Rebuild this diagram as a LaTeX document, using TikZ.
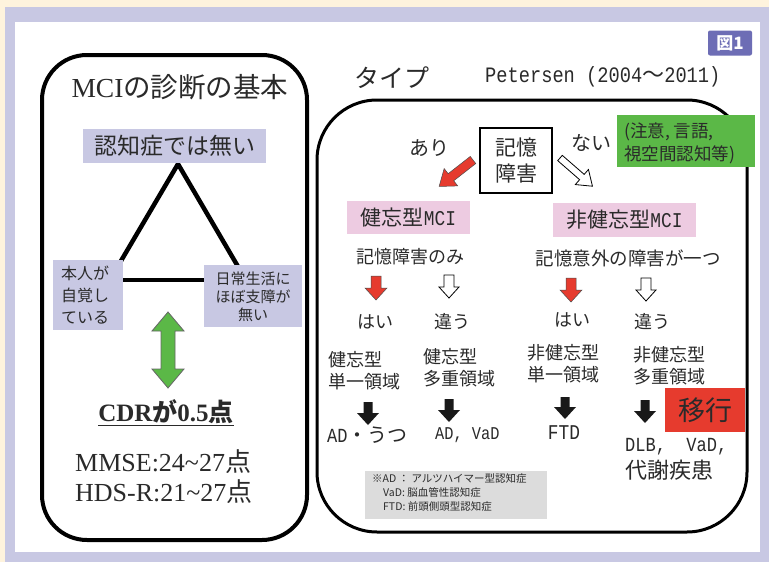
\documentclass[tikz,border=0pt]{standalone}
\usepackage{fontspec}
\setmainfont{Liberation Serif}
\newfontfamily\jp{Noto Sans CJK JP}
\newfontfamily\mono[FakeStretch=0.85]{Liberation Mono}
\newcommand{\fsz}[1]{\fontsize{#1}{#1}\selectfont}
\newcommand{\fszl}[2]{\fontsize{#1}{#2}\selectfont}
\definecolor{cream}{HTML}{FEF3DD}
\definecolor{lav}{HTML}{C8C8E3}
\definecolor{badge}{HTML}{6D6DB5}
\definecolor{mgreen}{HTML}{5BB847}
\definecolor{mpink}{HTML}{EDCBE1}
\definecolor{mred}{HTML}{E63B2E}
\definecolor{mgray}{HTML}{DCDCDC}
\definecolor{txt}{HTML}{2A2A2A}
\newcommand{\blockarr}[8]{%
  \path[#1, shift={(#2,#3)}, rotate=#4] (0,-#6) -- ({#5-#8},-#6) -- ({#5-#8},-#7) -- (#5,0) -- ({#5-#8},#7) -- ({#5-#8},#6) -- (0,#6) -- cycle;}
\begin{document}
\begin{tikzpicture}[x=1pt,y=-1pt,
  every node/.style={inner sep=0pt, text=txt},
  lavbox/.style={fill=lav},
  pinkbox/.style={fill=mpink},
  frame/.style={draw=black, line width=4pt, rounded corners=45pt},
  tframe/.style={draw=black, line width=3pt, rounded corners=60pt},
  triline/.style={line width=4.5pt, black},
  redarr/.style={fill=mred, draw=black!70, line width=0.5pt},
  hollowarr/.style={fill=white, draw=black, line width=0.8pt},
  blackarr/.style={fill=black!90},
  greenarr/.style={fill=mgreen, draw=black!60, line width=0.8pt}]
\fill[cream] (0,0) rectangle (769,562);
\useasboundingbox (0,0) rectangle (769,562);
\fill[lav] (5,7) rectangle (769,562);
\fill[white] (15,22) rectangle (760,552);
% badge
\node[fill=badge, rounded corners=2pt, minimum width=44pt, minimum height=25pt, text=white, font={\jp\bfseries\fsz{17}}] (badge) at (730,43) {図1};

% ---------- left panel ----------
\draw[frame] (42,55) rectangle (307,540);
\node[font=\fsz{27.5}] (title) at (180,87) {MCI{\jp の診断の基本}};
\coordinate (apex) at (178,164);
\coordinate (tl) at (118,266);
\coordinate (tr) at (240,270);
\coordinate (hl) at (118,280);
\coordinate (hr) at (210,280);
\draw[triline] (tl) -- (apex) -- (tr);
\draw[triline] (hl) -- (hr);
\node[lavbox, minimum width=183pt, minimum height=34pt, font={\jp\fsz{23}}] (notdem) at (174.5,146) {認知症では無い};
\node[lavbox, anchor=north west, minimum width=70pt, minimum height=70pt] (selfbox) at (53,260) {};
\node[anchor=west, align=left, font={\jp\fszl{16}{22}}] (self) at (61,295) {本人が\\自覚し\\ている};
\node[lavbox, anchor=north west, minimum width=98pt, minimum height=62pt] (dailybox) at (204,265) {};
\node[align=center, font={\jp\fszl{15}{18}}] (daily) at (253,297) {日常生活に\\ほぼ支障が\\無い};
\path[greenarr] (168,312) -- (184,331) -- (175,331) -- (175,369) -- (184,369) -- (168,388) -- (152,369) -- (161,369) -- (161,331) -- (152,331) -- cycle;
\node[font={\bfseries\fsz{25}}] (cdr) at (166,413) {\underline{CDR{\jp\bfseries が}0.5{\jp\bfseries 点}}};
\node[anchor=west, font=\fsz{26}] (mmse) at (75,462) {MMSE:24\textasciitilde 27{\jp 点}};
\node[anchor=west, font=\fsz{26}] (hds) at (75,492) {HDS-R:21\textasciitilde 27{\jp 点}};

% ---------- right panel ----------
\node[font={\jp\fsz{25}}] (type) at (392,78) {タイプ};
\node[anchor=west, font={\mono\fsz{22}}] (peter) at (485,77) {Petersen (2004{\jp〜}2011)};
\draw[tframe] (317,100) rectangle (747,532);
\node[fill=mgreen, anchor=north west, minimum width=138pt, minimum height=52pt] (grn) at (617,115) {};
\node[anchor=west, align=left, font={\jp\fszl{17.5}{23}}] (grntxt) at (624,143) {(注意, 言語,\\視空間認知等)};
\node[draw=black, line width=1.5pt, fill=white, minimum width=72pt, minimum height=65pt, align=center, font={\jp\fszl{21}{26}}] (mem) at (516,160.5) {記憶\\障害};
\node[font={\jp\fsz{20}}] (ari) at (429,148) {あり};
\node[font={\jp\fsz{20}}] (nai) at (591,143) {ない};
\blockarr{redarr}{473}{160}{218}{43}{4.5}{11}{15}
\blockarr{hollowarr}{560}{158}{-41}{43}{3.5}{10}{14}
\node[pinkbox, minimum width=123pt, minimum height=33pt, font={\jp\fsz{21}}] (amn) at (408.5,217.5) {健忘型{\mono MCI}};
\node[pinkbox, minimum width=143pt, minimum height=34pt, font={\jp\fsz{21}}] (namn) at (624.5,220) {非健忘型{\mono MCI}};
\node[font={\jp\fsz{18}}] (q1) at (410,257) {記憶障害のみ};
\node[font={\jp\fsz{18.5}}] (q2) at (628,258) {記憶意外の障害が一つ};
\blockarr{redarr}{376}{276}{-90}{24}{5}{11}{12}
\blockarr{hollowarr}{449}{275}{-90}{23}{5}{10}{11}
\blockarr{redarr}{571}{278}{-90}{24}{5}{11}{12}
\blockarr{hollowarr}{646}{278}{-90}{23}{5}{10}{11}
\node[font={\jp\fsz{18}}] (y1) at (375,322) {はい};
\node[font={\jp\fsz{18}}] (n1) at (452,322) {違う};
\node[font={\jp\fsz{18}}] (y2) at (572,320) {はい};
\node[font={\jp\fsz{18}}] (n2) at (652,322) {違う};
\node[anchor=west, align=left, font={\jp\fszl{18}{22}}] (t1) at (328,371) {健忘型\\単一領域};
\node[anchor=west, align=left, font={\jp\fszl{18}{22}}] (t2) at (423,367.5) {健忘型\\多重領域};
\node[anchor=west, align=left, font={\jp\fszl{18}{22}}] (t3) at (527,364) {非健忘型\\単一領域};
\node[anchor=west, align=left, font={\jp\fszl{18}{22}}] (t4) at (633,366) {非健忘型\\多重領域};
\blockarr{blackarr}{368}{402}{-90}{23}{4.5}{11}{12}
\blockarr{blackarr}{449}{399}{-90}{23}{4.5}{11}{12}
\blockarr{blackarr}{565}{397}{-90}{22}{4.5}{11}{12}
\blockarr{blackarr}{645}{400}{-90}{23}{4.5}{11}{12}
\node[fill=mred, minimum width=80pt, minimum height=44pt, font={\jp\fsz{27}}] (ikou) at (705,410) {移行};
\node[anchor=west, font={\mono\fsz{20}}] (d1) at (327,435) {AD{\jp ・うつ}};
\node[anchor=west, font={\mono\fsz{18}}] (d2) at (435,435) {AD, VaD};
\node[font={\mono\fsz{21}}] (d3) at (564,433) {FTD};
\node[anchor=west, font={\mono\fsz{20}}] (d4) at (625,447) {DLB,\ \ VaD,};
\node[anchor=west, font={\jp\fsz{22}}] (d5) at (625,470) {代謝疾患};
\node[fill=mgray, anchor=north west, minimum width=182pt, minimum height=48pt] (note) at (365,471) {};
\node[anchor=north west, align=left, font={\jp\fszl{10.5}{14}}] (notetxt) at (372,473.5) {※AD ： アルツハイマー型認知症\\\hspace*{11pt}VaD: 脳血管性認知症\\\hspace*{11pt}FTD: 前頭側頭型認知症};
\end{tikzpicture}
\end{document}
